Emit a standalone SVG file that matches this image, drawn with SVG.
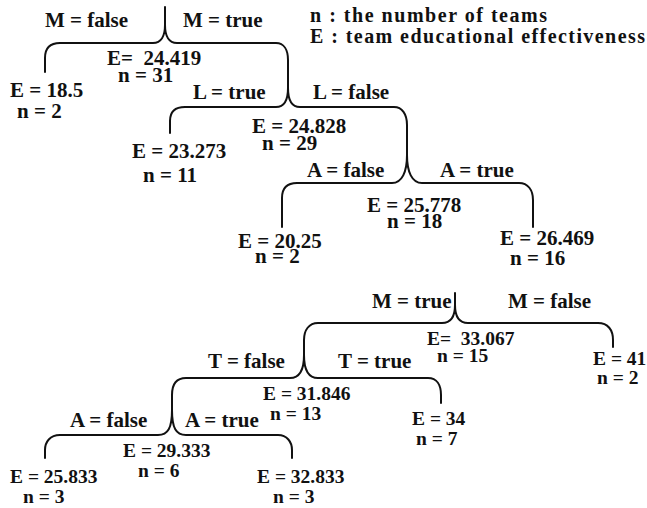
<svg xmlns="http://www.w3.org/2000/svg" width="647" height="508" viewBox="0 0 647 508">
<style>
text{font-family:"Liberation Serif","Times New Roman",serif;font-weight:bold;fill:#111;white-space:pre}
.t{font-size:21px}
.b{font-size:19.5px}
.lg{font-size:20px}
.br{fill:none;stroke:#111;stroke-width:2;stroke-linecap:round;stroke-linejoin:round}
</style>
<rect width="647" height="508" fill="#fff"/>
<g id="legend">
<text class="lg" x="310" y="22" textLength="237" lengthAdjust="spacing">n : the number of teams</text>
<text class="lg" x="310" y="43" textLength="335" lengthAdjust="spacing">E : team educational effectiveness</text>
</g>
<g id="connectors">
<path class="br" d="M45,72 L45,58 C45,48 50,43 60,43 L153,43 C161,43 165,36 165,25 L165,7 M165,25 C165,36 169,43 177,43 L276,43 C284,43 288,50 288,60 L288,88"/>
<path class="br" d="M170,133 L170,121 C170,111 175,107 185,107 L276,107 C284,107 288,100 288,88 C288,100 292,107 300,107 L394,107 C402,107 407,114 407,125 L407,155"/>
<path class="br" d="M282,227 L282,198 C282,188 287,183 297,183 L392,183 C402,183 407,172 407,155 C407,172 412,183 422,183 L519,183 C528,183 533,190 533,200 L533,227"/>
<path class="br" d="M613,347 L613,340 C613,330 608,323 598,323 L468,323 C459,323 455,316 455,305 L455,293 M455,305 C455,316 451,323 442,323 L318,323 C309,323 304,330 304,340 L304,355"/>
<path class="br" d="M172,410 L172,395 C172,385 176,378 186,378 L290,378 C300,378 304,370 304,355 C304,370 308,378 318,378 L428,378 C437,378 441,385 441,395 L441,403"/>
<path class="br" d="M45,458 L45,450 C45,442 50,435 60,435 L158,435 C168,435 172,428 172,410 C172,428 176,435 186,435 L278,435 C287,435 292,442 292,450 L292,458"/>
<g id="edge-labels">
<text class="t" x="45" y="27">M = false</text>
<text class="t" x="183" y="27">M = true</text>
<text class="t" x="193" y="99">L = true</text>
<text class="t" x="313" y="99">L = false</text>
<text class="t" x="307" y="177">A = false</text>
<text class="t" x="440" y="177">A = true</text>
<text class="t" x="372" y="308">M = true</text>
<text class="t" x="508" y="308">M = false</text>
<text class="t" x="208" y="368">T = false</text>
<text class="t" x="338" y="368">T = true</text>
<text class="t" x="70" y="427">A = false</text>
<text class="t" x="185" y="427">A = true</text>
</g>
</g>
<g id="n1"><text class="t" x="107" y="65">E=  24.419</text><text class="t" x="118" y="82">n = 31</text></g>
<g id="n2"><text class="t" x="10" y="97">E = 18.5</text><text class="t" x="17" y="118">n = 2</text></g>
<g id="n3"><text class="t" x="252" y="133">E = 24.828</text><text class="t" x="262" y="150">n = 29</text></g>
<g id="n4"><text class="t" x="132" y="158">E = 23.273</text><text class="t" x="143" y="182">n = 11</text></g>
<g id="n5"><text class="t" x="367" y="212">E = 25.778</text><text class="t" x="387" y="228">n = 18</text></g>
<g id="n6"><text class="t" x="238" y="248">E = 20.25</text><text class="t" x="255" y="263">n = 2</text></g>
<g id="n7"><text class="t" x="500" y="245">E = 26.469</text><text class="t" x="510" y="265">n = 16</text></g>
<g id="n8"><text class="b" x="427" y="345">E=  33.067</text><text class="b" x="437" y="362">n = 15</text></g>
<g id="n9"><text class="b" x="593" y="365">E = 41</text><text class="b" x="597" y="384">n = 2</text></g>
<g id="n10"><text class="b" x="263" y="400">E = 31.846</text><text class="b" x="270" y="420">n = 13</text></g>
<g id="n11"><text class="b" x="412" y="425">E = 34</text><text class="b" x="416" y="445">n = 7</text></g>
<g id="n12"><text class="b" x="123" y="457">E = 29.333</text><text class="b" x="138" y="477">n = 6</text></g>
<g id="n13"><text class="b" x="10" y="483">E = 25.833</text><text class="b" x="23" y="503">n = 3</text></g>
<g id="n14"><text class="b" x="257" y="483">E = 32.833</text><text class="b" x="273" y="503">n = 3</text></g>
</svg>
